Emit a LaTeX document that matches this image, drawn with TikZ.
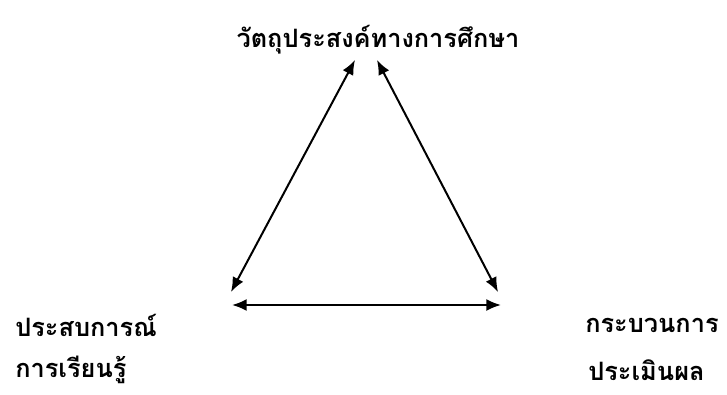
\documentclass[tikz,border=0pt]{standalone}
\usepackage{fontspec}
\newfontfamily\thaifont[Script=Thai]{Loma}
\usetikzlibrary{arrows.meta}
\begin{document}
\begin{tikzpicture}[x=0.75pt,y=-0.75pt,
  lbl/.style={font=\thaifont\bfseries\fontsize{19}{22}\selectfont, inner sep=0pt},
  link/.style={line width=1.5pt, {Latex[length=11pt,width=9pt]}-{Latex[length=11pt,width=9pt]}}]
\useasboundingbox (0,0) rectangle (727,395);
\node[lbl] (top) at (378,40) {วัตถุประสงค์ทางการศึกษา};
\node[lbl, anchor=west] (l1) at (15,325) {ประสบการณ์};
\node[lbl, anchor=west] (l2) at (15,370) {การเรียนรู้};
\node[lbl, anchor=west] (r1) at (585,325) {กระบวนการ};
\node[lbl, anchor=west] (r2) at (588,370) {ประเมินผล};
\coordinate (a1) at (355,60);
\coordinate (a2) at (231,292);
\coordinate (b1) at (377,60);
\coordinate (b2) at (498,292);
\coordinate (c1) at (232,305);
\coordinate (c2) at (501,305);
\draw[link] (a1) -- (a2);
\draw[link] (b1) -- (b2);
\draw[link] (c1) -- (c2);
\end{tikzpicture}
\end{document}
